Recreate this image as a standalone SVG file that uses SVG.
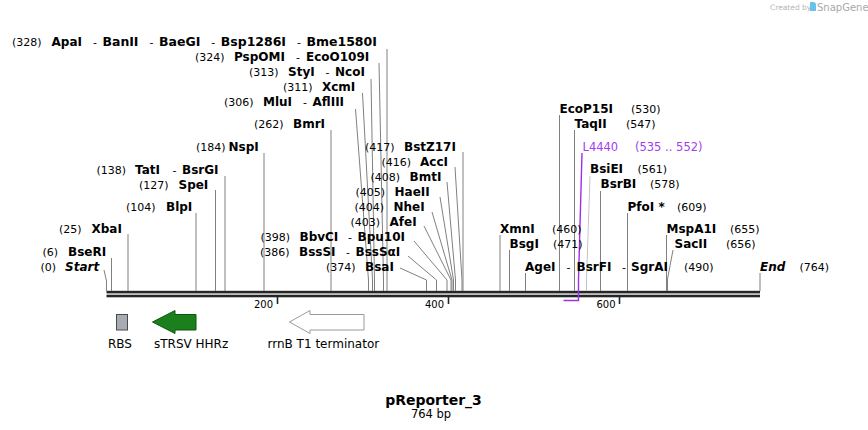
<svg xmlns="http://www.w3.org/2000/svg" width="868" height="430" viewBox="0 0 868 430">
<style>
text{font-family:"DejaVu Sans",Verdana,sans-serif;fill:#000}
.n{font-size:11px}
.b{font-size:12px;font-weight:bold}
.bi{font-size:12px;font-weight:bold;font-style:italic}
.p{font-size:11.5px;fill:#a43cf0}
.f{font-size:12px}
.t{font-size:10px;text-anchor:end}
#connectors line,#connectors polyline{stroke:#808080;stroke-width:1;fill:none}
#connectors .lt{stroke:#c4c4c4}
#connectors .pu{stroke:#9b2ff0;stroke-width:1.4}
.bb{fill:#262626}
.tick{stroke:#262626;stroke-width:1.6}
</style>
<rect width="868" height="430" fill="#fff"/>

<g id="watermark">
<text x="770" y="10" style="font-size:7.5px;fill:#b5b5b5">Created by</text>
<path d="M810,2 h3 a3,3 0 0 1 3,3 v6 h-6 z" fill="#6cc0ec"/>
<text x="817" y="11" style="font-size:10px;fill:#a8a8a8">SnapGene</text>
</g>

<g id="backbone">
<rect class="bb" x="106.5" y="290.8" width="653.5" height="2.6"/>
<rect class="bb" x="106.5" y="294.7" width="653.5" height="2.6"/>
<line class="tick" x1="277.5" y1="297" x2="277.5" y2="304"/>
<line class="tick" x1="448.5" y1="297" x2="448.5" y2="304"/>
<line class="tick" x1="619.5" y1="297" x2="619.5" y2="304"/>
<text class="t" x="273" y="308">200</text>
<text class="t" x="444" y="308">400</text>
<text class="t" x="615.5" y="308">600</text>
</g>

<g id="connectors">
<polyline points="104,270 106.5,281 106.5,291"/>
<line x1="111.5" y1="258" x2="111.5" y2="291"/>
<line x1="128" y1="234" x2="128" y2="291"/>
<line x1="196" y1="213" x2="196" y2="291"/>
<line x1="215.5" y1="190" x2="215.5" y2="291"/>
<line x1="225" y1="176" x2="225" y2="291"/>
<line x1="264" y1="153" x2="264" y2="291"/>
<line x1="331" y1="130" x2="331" y2="291"/>
<polyline points="355.5,109 368.5,280 368.5,291"/>
<polyline points="362.5,93 372.5,280 372.5,291"/>
<polyline points="371,79 374.5,280 374.5,291"/>
<polyline points="379,63 383.5,280 383.5,291"/>
<line x1="387" y1="49" x2="387" y2="291"/>
<polyline points="400,268 426.5,280 426.5,291"/>
<polyline points="408,256 436.5,280 436.5,291"/>
<polyline points="414,241 447,280 447,291"/>
<polyline points="424,226 451,280 451,291"/>
<polyline points="432,212 452,280 452,291"/>
<polyline points="440,197 453.5,280 453.5,291"/>
<polyline points="447,182 455.5,280 455.5,291"/>
<polyline points="455,167 462,280 462,291"/>
<line x1="463" y1="152" x2="463" y2="291"/>
<line x1="500" y1="235" x2="500" y2="291"/>
<line x1="509.5" y1="250" x2="509.5" y2="291"/>
<line x1="525.5" y1="273" x2="525.5" y2="291"/>
<line x1="559.5" y1="115" x2="559.5" y2="291"/>
<line x1="574.5" y1="130" x2="574.5" y2="291"/>
<polyline class="lt" points="590,176 586.5,280 586.5,291"/>
<line x1="600.5" y1="191" x2="600.5" y2="291"/>
<line x1="627.5" y1="213" x2="627.5" y2="291"/>
<line x1="666.5" y1="235" x2="666.5" y2="291"/>
<polyline points="673,250 667.5,279 667.5,291"/>
<line x1="760" y1="273" x2="760" y2="291"/>
<polyline class="pu" points="582,153 578.5,280 578.5,300.5 563.5,300.5"/>
</g>

<g id="site-328"><text y="46"><tspan class="n" x="12">(328)</tspan><tspan class="b" x="51.5">ApaI</tspan><tspan class="n" x="93">-</tspan><tspan class="b" x="102.5" textLength="36" lengthAdjust="spacingAndGlyphs">BanII</tspan><tspan class="n" x="149.5">-</tspan><tspan class="b" x="159" textLength="41.3" lengthAdjust="spacingAndGlyphs">BaeGI</tspan><tspan class="n" x="211.3">-</tspan><tspan class="b" x="220.8" textLength="65.2" lengthAdjust="spacingAndGlyphs">Bsp1286I</tspan><tspan class="n" x="297">-</tspan><tspan class="b" x="306.5" textLength="70.4" lengthAdjust="spacingAndGlyphs">Bme1580I</tspan></text></g>
<g id="site-324"><text y="61"><tspan class="n" x="195">(324)</tspan><tspan class="b" x="234">PspOMI</tspan><tspan class="n" x="296">-</tspan><tspan class="b" x="306">EcoO109I</tspan></text></g>
<g id="site-313"><text y="76"><tspan class="n" x="249">(313)</tspan><tspan class="b" x="288">StyI</tspan><tspan class="n" x="325.5">-</tspan><tspan class="b" x="335">NcoI</tspan></text></g>
<g id="site-311"><text y="91"><tspan class="n" x="283">(311)</tspan><tspan class="b" x="322">XcmI</tspan></text></g>
<g id="site-306"><text y="106"><tspan class="n" x="224">(306)</tspan><tspan class="b" x="263">MluI</tspan><tspan class="n" x="303">-</tspan><tspan class="b" x="312.5">AflIII</tspan></text></g>
<g id="site-262"><text y="128"><tspan class="n" x="254">(262)</tspan><tspan class="b" x="293">BmrI</tspan></text></g>
<g id="site-184"><text y="151"><tspan class="n" x="196">(184)</tspan><tspan class="b" x="228.5">NspI</tspan></text></g>
<g id="site-138"><text y="174"><tspan class="n" x="96.5">(138)</tspan><tspan class="b" x="135">TatI</tspan><tspan class="n" x="172.5">-</tspan><tspan class="b" x="182">BsrGI</tspan></text></g>
<g id="site-127"><text y="189"><tspan class="n" x="139">(127)</tspan><tspan class="b" x="178.5">SpeI</tspan></text></g>
<g id="site-104"><text y="211"><tspan class="n" x="126">(104)</tspan><tspan class="b" x="166">BlpI</tspan></text></g>
<g id="site-25"><text y="233"><tspan class="n" x="59">(25)</tspan><tspan class="b" x="91.5">XbaI</tspan></text></g>
<g id="site-6"><text y="256"><tspan class="n" x="42.5">(6)</tspan><tspan class="b" x="68">BseRI</tspan></text></g>
<g id="site-0"><text y="271"><tspan class="n" x="40.5">(0)</tspan><tspan class="bi" x="65">Start</tspan></text></g>

<g id="site-417"><text y="151"><tspan class="n" x="365">(417)</tspan><tspan class="b" x="404">BstZ17I</tspan></text></g>
<g id="site-416"><text y="166"><tspan class="n" x="381.5">(416)</tspan><tspan class="b" x="420">AccI</tspan></text></g>
<g id="site-408"><text y="181"><tspan class="n" x="370.5">(408)</tspan><tspan class="b" x="409.5">BmtI</tspan></text></g>
<g id="site-405"><text y="196"><tspan class="n" x="355.5">(405)</tspan><tspan class="b" x="394.5">HaeII</tspan></text></g>
<g id="site-404"><text y="211"><tspan class="n" x="354.5">(404)</tspan><tspan class="b" x="393.5">NheI</tspan></text></g>
<g id="site-403"><text y="226"><tspan class="n" x="350.5">(403)</tspan><tspan class="b" x="389.5">AfeI</tspan></text></g>
<g id="site-398"><text y="241"><tspan class="n" x="260.5">(398)</tspan><tspan class="b" x="299.5">BbvCI</tspan><tspan class="n" x="348">-</tspan><tspan class="b" x="357.5">Bpu10I</tspan></text></g>
<g id="site-386"><text y="256"><tspan class="n" x="260">(386)</tspan><tspan class="b" x="299">BssSI</tspan><tspan class="n" x="346">-</tspan><tspan class="b" x="355.5">BssSαI</tspan></text></g>
<g id="site-374"><text y="271"><tspan class="n" x="326">(374)</tspan><tspan class="b" x="365">BsaI</tspan></text></g>

<g id="site-530"><text y="113"><tspan class="b" x="559.5">EcoP15I</tspan><tspan class="n" x="631">(530)</tspan></text></g>
<g id="site-547"><text y="128"><tspan class="b" x="574.5">TaqII</tspan><tspan class="n" x="626">(547)</tspan></text></g>
<g id="feature-L4440"><text y="151"><tspan class="p" x="582.5">L4440</tspan><tspan class="p" x="635">(535 .. 552)</tspan></text></g>
<g id="site-561"><text y="173"><tspan class="b" x="590">BsiEI</tspan><tspan class="n" x="637.5">(561)</tspan></text></g>
<g id="site-578"><text y="188"><tspan class="b" x="600.5">BsrBI</tspan><tspan class="n" x="650">(578)</tspan></text></g>
<g id="site-609"><text y="211"><tspan class="b" x="627.5">PfoI *</tspan><tspan class="n" x="677">(609)</tspan></text></g>
<g id="site-460"><text y="233"><tspan class="b" x="500">XmnI</tspan><tspan class="n" x="552">(460)</tspan></text></g>
<g id="site-471"><text y="248"><tspan class="b" x="509.5">BsgI</tspan><tspan class="n" x="553">(471)</tspan></text></g>
<g id="site-490"><text y="271"><tspan class="b" x="525">AgeI</tspan><tspan class="n" x="566.5">-</tspan><tspan class="b" x="576.5">BsrFI</tspan><tspan class="n" x="622">-</tspan><tspan class="b" x="631">SgrAI</tspan><tspan class="n" x="684">(490)</tspan></text></g>
<g id="site-655"><text y="233"><tspan class="b" x="666.5">MspA1I</tspan><tspan class="n" x="730">(655)</tspan></text></g>
<g id="site-656"><text y="248"><tspan class="b" x="674.5">SacII</tspan><tspan class="n" x="726">(656)</tspan></text></g>
<g id="site-764"><text y="271"><tspan class="bi" x="760">End</tspan><tspan class="n" x="799.5">(764)</tspan></text></g>

<g id="RBS">
<rect x="116.5" y="314.5" width="11" height="15.5" fill="#a7acb4" stroke="#4a4a4a" stroke-width="1"/>
<text class="f" x="108" y="348">RBS</text>
</g>
<g id="sTRSV-HHRz">
<polygon points="152.5,322 175,310.5 175,314.5 196,314.5 196,330 175,330 175,333.5" fill="#1b7f1b" stroke="#0e560e" stroke-width="1"/>
<text class="f" x="154" y="348">sTRSV HHRz</text>
</g>
<g id="rrnB-T1-terminator">
<polygon points="289.5,322 310,310.5 310,314.5 364,314.5 364,330 310,330 310,333.5" fill="#fff" stroke="#9a9a9a" stroke-width="1"/>
<text class="f" x="267.5" y="348">rrnB T1 terminator</text>
</g>

<g id="title">
<text x="433.5" y="405" text-anchor="middle" style="font-size:14px;font-weight:bold">pReporter_3</text>
<text x="431" y="418" text-anchor="middle" style="font-size:11.5px">764 bp</text>
</g>
</svg>
